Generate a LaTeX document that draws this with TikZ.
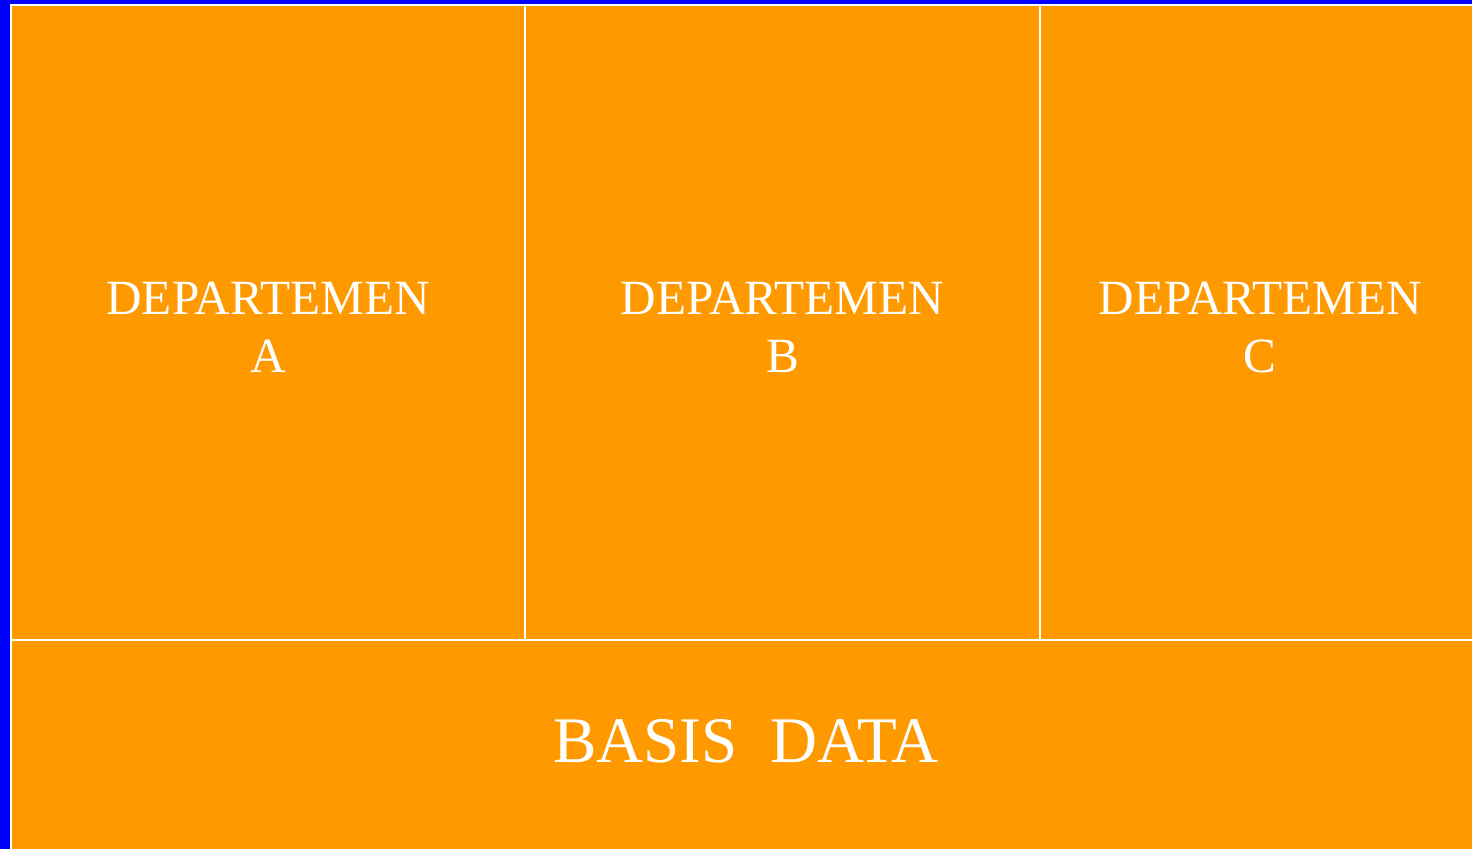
\documentclass[tikz,border=0pt]{standalone}
\usepackage{fontspec}
\setmainfont{Liberation Serif}
\definecolor{jingga}{HTML}{FF9900}

\begin{document}
\begin{tikzpicture}[x=0.01cm, y=-0.01cm,
    zelle/.style={draw=white, line width=0.02cm, fill=jingga, text=white,
        outer sep=0pt, inner sep=0pt, align=center, anchor=north west,
        font=\fontsize{14}{16.5}\selectfont}]
    % Hintergrund
    \fill[blue] (0,0) rectangle (1472,849);
    \useasboundingbox (0,0) rectangle (1472,849);

    % Departemen
    \node[zelle, minimum width=5.14cm, minimum height=6.35cm, text height=28.5pt] (depA) at (11,5) {DEPARTEMEN\\A};
    \node[zelle, minimum width=5.14cm, minimum height=6.35cm, text height=28.5pt] (depB) at (depA.north east) {DEPARTEMEN\\B};
    \node[zelle, minimum width=4.41cm, minimum height=6.35cm, text height=28.5pt] (depC) at (depB.north east) {DEPARTEMEN\\C};

    % Basis data
    \node[zelle, minimum width=14.69cm, minimum height=2.2cm, text depth=0.18cm,
        font=\fontsize{18.5}{22}\selectfont] (basisdata) at (depA.south west) {BASIS\hspace{0.5em}DATA};
\end{tikzpicture}
\end{document}
